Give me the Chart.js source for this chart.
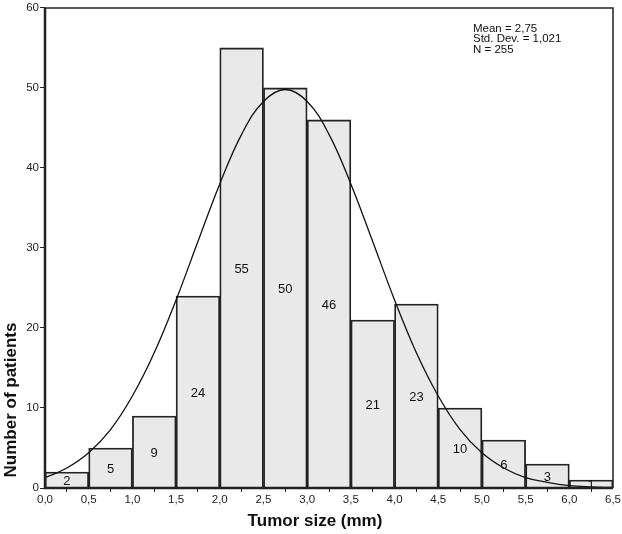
<!DOCTYPE html>
<html>
<head>
<meta charset="utf-8">
<script src="https://cdn.jsdelivr.net/npm/chart.js@4"></script>
<style>
  html, body { margin:0; padding:0; background:#fff; }
  #wrap { width:622px; height:534px; }
</style>
</head>
<body>
<div id="wrap"><canvas id="js-hist"></canvas></div>
<script>
  /* ━━━━  DATA  ━━━━ */
  const binStarts = [0, 0.5, 1.0, 1.5, 2.0, 2.5, 3.0, 3.5, 4.0, 4.5, 5.0, 5.5, 6.0];
  const counts    = [2, 5, 9, 24, 55, 50, 46, 21, 23, 10, 6, 3, 1];
  const xTicks    = [0, 0.5, 1, 1.5, 2, 2.5, 3, 3.5, 4, 4.5, 5, 5.5, 6, 6.5];
  const yTicks    = [0, 10, 20, 30, 40, 50, 60];
  // normal curve, every 0.25 mm
  const curveX = [0, 0.25, 0.5, 0.75, 1, 1.25, 1.5, 1.75, 2, 2.25, 2.5, 2.75, 3, 3.25, 3.5, 3.75, 4, 4.25, 4.5, 4.75, 5, 5.25, 5.5, 5.75, 6, 6.25, 6.5];
  const curveY = [1.3, 2.5, 4.4, 7.3, 11.5, 16.9, 23.5, 30.8, 38.0, 44.2, 48.3, 49.8, 48.3, 44.2, 38.0, 30.8, 23.5, 16.9, 11.5, 7.3, 4.4, 2.5, 1.3, 0.7, 0.3, 0.14, 0.06];
  const statLines = ['Mean = 2,75', 'Std. Dev. = 1,021', 'N = 255'];
  const BIN_W = 0.5;

  const fmtComma = v => Number(v).toFixed(1).replace('.', ',');
  const FONT = "'Liberation Sans', Arial, sans-serif";

  /* bar value labels, frame, titles, stats box */
  const decorPlugin = {
    id: 'decor',
    afterDatasetsDraw(chart) {
      const { ctx, chartArea: a, scales: { x, y } } = chart;
      ctx.save();
      // labels in bar centres
      ctx.fillStyle = '#111';
      ctx.font = '13px ' + FONT;
      ctx.textAlign = 'center';
      ctx.textBaseline = 'middle';
      counts.forEach((c, i) => {
        const cx = x.getPixelForValue(binStarts[i] + BIN_W / 2);
        const cy = (y.getPixelForValue(c) + y.getPixelForValue(0)) / 2;
        ctx.fillText(String(c), cx, cy + 1);
      });
      // frame: thin top/right, thick left/bottom
      ctx.strokeStyle = '#222';
      ctx.lineWidth = 1.5;
      ctx.beginPath();
      ctx.moveTo(a.left, a.top); ctx.lineTo(a.right, a.top); ctx.lineTo(a.right, a.bottom);
      ctx.stroke();
      ctx.lineWidth = 2.5;
      ctx.beginPath();
      ctx.moveTo(a.left, a.top); ctx.lineTo(a.left, a.bottom); ctx.lineTo(a.right, a.bottom);
      ctx.stroke();
      // stats
      ctx.font = '11.5px ' + FONT;
      ctx.textAlign = 'left';
      ctx.textBaseline = 'top';
      ctx.fillStyle = '#111';
      statLines.forEach((s, i) => ctx.fillText(s, 473, 23 + i * 10.5));
      // axis titles
      ctx.font = 'bold 17px ' + FONT;
      ctx.textAlign = 'center';
      ctx.textBaseline = 'middle';
      ctx.fillText('Tumor size (mm)', 315, 521);
      ctx.translate(11, 400);
      ctx.rotate(-Math.PI / 2);
      ctx.fillText('Number of patients', 0, 0);
      ctx.restore();
    }
  };

  new Chart(document.getElementById('js-hist').getContext('2d'), {
    data: {
      datasets: [
        {
          type: 'line',
          data: curveX.map((v, i) => ({ x: v, y: curveY[i] })),
          borderColor: '#111',
          borderWidth: 1.3,
          pointRadius: 0,
          tension: 0.4,
          fill: false,
          order: 0
        },
        {
          type: 'bar',
          data: binStarts.map((b, i) => ({ x: b + BIN_W / 2, y: counts[i] })),
          backgroundColor: '#e9e9e9',
          borderColor: '#222',
          borderWidth: 1.8,
          barPercentage: 1,
          categoryPercentage: 1,
          order: 1
        }
      ]
    },
    options: {
      responsive: true,
      maintainAspectRatio: false,
      animation: false,
      layout: { padding: { left: 0, right: 7, top: 4, bottom: 0 } },
      plugins: { legend: { display: false }, tooltip: { enabled: false } },
      scales: {
        x: {
          type: 'linear',
          min: 0, max: 6.5,
          offset: false,
          afterBuildTicks: s => { s.ticks = xTicks.map(v => ({ value: v })); },
          afterFit: s => { s.height = 46; },
          grid: { display: true, drawOnChartArea: false, tickLength: 4, color: '#222' },
          border: { display: false },
          ticks: { color: '#222', font: { size: 11.5, family: FONT }, padding: 1, maxRotation: 0, callback: v => fmtComma(v) }
        },
        y: {
          min: 0, max: 60,
          afterBuildTicks: s => { s.ticks = yTicks.map(v => ({ value: v })); },
          afterFit: s => { s.width = 45; },
          grid: { display: true, drawOnChartArea: false, tickLength: 5, color: '#222' },
          border: { display: false },
          ticks: { color: '#222', font: { size: 11.5, family: FONT }, padding: 1 }
        }
      }
    },
    plugins: [decorPlugin]
  });
</script>
</body>
</html>
